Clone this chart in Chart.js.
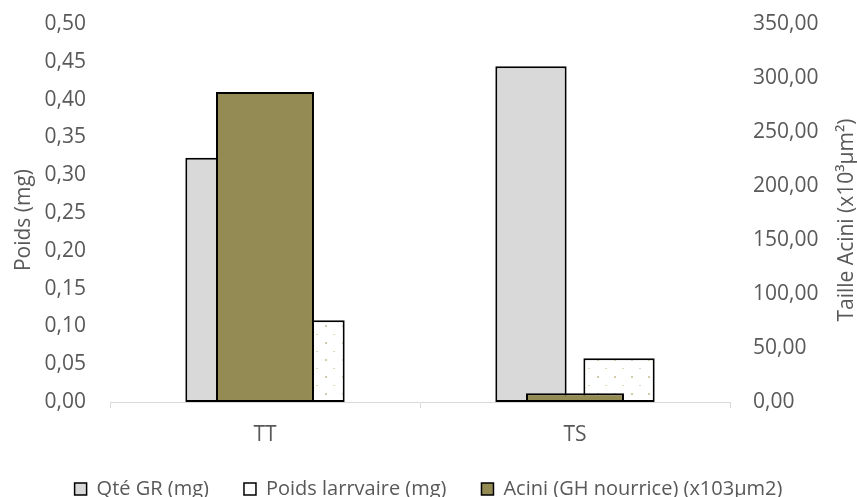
<!DOCTYPE html>
<html>
<head>
<meta charset="utf-8">
<script src="https://cdn.jsdelivr.net/npm/chart.js@4/dist/chart.umd.min.js"></script>
<style>
  html, body { margin: 0; padding: 0; background: #ffffff; }
  #wrap { width: 857px; height: 497px; }
</style>
</head>
<body>
<div id="wrap"><canvas id="chart" width="857" height="497"></canvas></div>
<script>
// Groupes comparés
const categories = ['TT', 'TS'];

// Axe principal : poids (mg)
const qteGR = [0.323, 0.444];
const poidsLarvaire = [0.108, 0.058];

// Axe secondaire : taille des acini (x10³ µm²)
const aciniTaille = [287.0, 8.2];

// Graduations des deux axes
const poidsTicks = [0, 0.05, 0.10, 0.15, 0.20, 0.25, 0.30, 0.35, 0.40, 0.45, 0.50];
const aciniTicks = [0, 50, 100, 150, 200, 250, 300, 350];

const seriesNames = ['Qté GR (mg)', 'Poids larrvaire (mg)', 'Acini (GH nourrice) (x103µm2)'];
const axisTitleLeft = 'Poids (mg)';
const axisTitleRight = 'Taille Acini (x10³µm²)';

const FONT = '"Open Sans", "Liberation Sans", sans-serif';
const TEXT = '#595959';

// Motif pointillé pour les barres de poids larvaire
function dottedPattern() {
  const tile = document.createElement('canvas');
  tile.width = 17;
  tile.height = 17;
  const t = tile.getContext('2d');
  t.fillStyle = '#ffffff';
  t.fillRect(0, 0, 17, 17);
  t.fillStyle = '#d3cdaa';
  t.fillRect(2, 2, 2, 2);
  t.fillStyle = '#ddd8bd';
  t.fillRect(10, 11, 2, 1);
  return document.getElementById('chart').getContext('2d').createPattern(tile, 'repeat');
}

const fmt = v => Number(v).toFixed(2).replace('.', ',');

// Titres verticaux des deux axes, lus de bas en haut
const axisTitles = {
  id: 'axisTitles',
  afterDraw(chart) {
    const { ctx, chartArea } = chart;
    const cy = (chartArea.top + chartArea.bottom) / 2 + 7;
    const draw = (txt, x) => {
      ctx.save();
      ctx.translate(x, cy);
      ctx.rotate(-Math.PI / 2);
      ctx.font = '21px ' + FONT;
      ctx.fillStyle = TEXT;
      ctx.textAlign = 'center';
      ctx.textBaseline = 'middle';
      ctx.fillText(txt, 0, 0);
      ctx.restore();
    };
    draw(axisTitleLeft, 24);
    draw(axisTitleRight, 847);
  }
};

// Les étiquettes des axes verticaux débordent librement au-dessus de la zone de tracé
const noOverflowPadding = scale => {
  scale.paddingTop = 0;
  scale.paddingBottom = 0;
};

new Chart(document.getElementById('chart'), {
  type: 'bar',
  data: {
    labels: categories,
    datasets: [
      {
        label: seriesNames[0],
        data: qteGR,
        backgroundColor: '#d9d9d9',
        borderColor: '#000000',
        borderWidth: 2,
        borderSkipped: false,
        yAxisID: 'y',
        categoryPercentage: 0.568,
        barPercentage: 0.81,
        order: 1
      },
      {
        label: seriesNames[1],
        data: poidsLarvaire,
        backgroundColor: dottedPattern(),
        borderColor: '#000000',
        borderWidth: 2,
        borderSkipped: false,
        yAxisID: 'y',
        categoryPercentage: 0.568,
        barPercentage: 0.81,
        order: 1
      },
      {
        // Série de l'axe secondaire, centrée sur la catégorie et dessinée par-dessus
        label: seriesNames[2],
        data: aciniTaille,
        backgroundColor: '#948a54',
        borderColor: '#000000',
        borderWidth: 2,
        borderSkipped: false,
        yAxisID: 'y2',
        grouped: false,
        categoryPercentage: 1,
        barPercentage: 0.316,
        order: 0
      }
    ]
  },
  options: {
    responsive: false,
    animation: false,
    devicePixelRatio: 1,
    layout: { padding: { left: 0, right: 0, top: 24, bottom: -12 } },
    scales: {
      x: {
        type: 'category',
        offset: true,
        grid: {
          display: true,
          offset: true,
          drawOnChartArea: false,
          drawTicks: true,
          tickLength: 6,
          color: '#d9d9d9',
          lineWidth: 1
        },
        border: { display: true, color: '#d9d9d9', width: 1 },
        ticks: { color: TEXT, font: { family: FONT, size: 21 }, padding: 14 },
        afterFit(scale) { scale.height = 42; }
      },
      y: {
        position: 'left',
        min: 0,
        max: 0.5,
        grid: { display: false, drawTicks: false },
        border: { display: false },
        afterBuildTicks(scale) { scale.ticks = poidsTicks.map(v => ({ value: v })); },
        ticks: {
          color: TEXT,
          font: { family: FONT, size: 21 },
          padding: 24,
          callback: v => fmt(v)
        },
        afterFit(scale) { scale.width = 110; noOverflowPadding(scale); }
      },
      y2: {
        position: 'right',
        min: 0,
        max: 350,
        grid: { display: false, drawTicks: false },
        border: { display: false },
        afterBuildTicks(scale) { scale.ticks = aciniTicks.map(v => ({ value: v })); },
        ticks: {
          color: TEXT,
          font: { family: FONT, size: 21 },
          padding: 23,
          callback: v => fmt(v)
        },
        afterFit(scale) { scale.width = 127; noOverflowPadding(scale); }
      }
    },
    plugins: {
      tooltip: { enabled: false },
      legend: {
        position: 'bottom',
        align: 'center',
        labels: {
          color: TEXT,
          font: { family: FONT, size: 20 },
          boxWidth: 12,
          boxHeight: 12,
          padding: 35,
          sort: (a, b) => a.datasetIndex - b.datasetIndex,
          generateLabels(chart) {
            const items = Chart.defaults.plugins.legend.labels.generateLabels(chart);
            items.forEach(it => {
              if (it.datasetIndex === 1) it.fillStyle = '#ffffff';
              it.lineWidth = 1.5;
              it.strokeStyle = '#000000';
            });
            return items;
          }
        }
      }
    }
  },
  plugins: [axisTitles]
});
</script>
</body>
</html>
